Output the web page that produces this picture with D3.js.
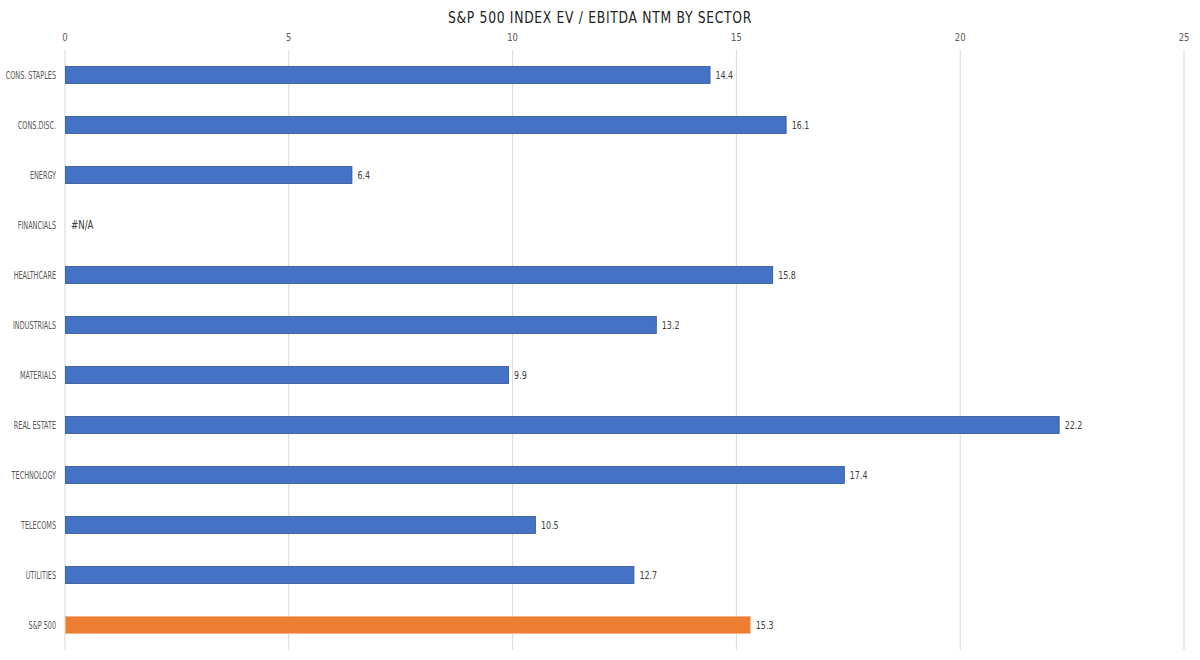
<!DOCTYPE html>
<html>
<head>
<meta charset="utf-8">
<script src="https://cdn.jsdelivr.net/npm/d3@7"></script>
<style>
  body { margin: 0; background: #fff; }
  text { font-family: "DejaVu Sans Condensed", "Liberation Sans Narrow", sans-serif; }
</style>
</head>
<body>
<div id="chart"></div>
<script>
var sectors = ['CONS. STAPLES', 'CONS.DISC.', 'ENERGY', 'FINANCIALS', 'HEALTHCARE', 'INDUSTRIALS',
               'MATERIALS', 'REAL ESTATE', 'TECHNOLOGY', 'TELECOMS', 'UTILITIES', 'S&P 500'];
var evEbitda = [14.4, 16.1, 6.4, null, 15.8, 13.2, 9.9, 22.2, 17.4, 10.5, 12.7, 15.3];
var xTicks = [0, 5, 10, 15, 20, 25];

var width = 1200,
    height = 660,
    margin = {top: 50, right: 16, bottom: 10, left: 65};

var svg = d3.select('#chart').append('svg')
  .attr('width', width)
  .attr('height', height);

var x = d3.scaleLinear()
  .domain([0, 25])
  .range([margin.left, width - margin.right]);

var y = d3.scaleBand()
  .domain(sectors)
  .range([margin.top, height - margin.bottom])
  .paddingInner(0.66)
  .paddingOuter(0.33);

// the reference uses a narrow font, so squeeze text horizontally
function at(px, py, sx) {
  return 'translate(' + px + ',' + py + ') scale(' + sx + ',1)';
}

svg.append('text')
  .attr('transform', at(width / 2, 23, 0.86))
  .attr('text-anchor', 'middle')
  .attr('font-size', 16)
  .attr('letter-spacing', 0.8)
  .attr('fill', '#222')
  .text('S&P 500 INDEX EV / EBITDA NTM BY SECTOR');

// gridlines
svg.append('g').selectAll('line')
  .data(xTicks)
  .enter().append('line')
  .attr('x1', function(d) { return x(d); })
  .attr('x2', function(d) { return x(d); })
  .attr('y1', margin.top)
  .attr('y2', height - margin.bottom)
  .attr('stroke', '#d9d9d9')
  .attr('stroke-width', 1);

// tick labels on top
svg.append('g').selectAll('text')
  .data(xTicks)
  .enter().append('text')
  .attr('transform', function(d) { return at(x(d), 41, 0.85); })
  .attr('text-anchor', 'middle')
  .attr('font-size', 11)
  .attr('fill', '#595959')
  .text(function(d) { return d; });

// category labels
svg.append('g').selectAll('text')
  .data(sectors)
  .enter().append('text')
  .attr('transform', function(d) { return at(56, y(d) + y.bandwidth() / 2, 0.72); })
  .attr('dy', '0.35em')
  .attr('text-anchor', 'end')
  .attr('font-size', 10)
  .attr('fill', '#595959')
  .text(function(d) { return d; });

var rows = sectors.map(function(s, i) { return {name: s, value: evEbitda[i]}; });

svg.append('g').selectAll('rect')
  .data(rows.filter(function(d) { return d.value !== null; }))
  .enter().append('rect')
  .attr('x', x(0) + 0.5)
  .attr('y', function(d) { return y(d.name); })
  .attr('width', function(d) { return x(d.value) - x(0); })
  .attr('height', y.bandwidth())
  .attr('fill', function(d) { return d.name === 'S&P 500' ? '#ED7D31' : '#4472C4'; })
  .attr('stroke', function(d) { return d.name === 'S&P 500' ? '#F4B183' : '#2F5597'; })
  .attr('stroke-width', 0.8);

svg.append('g').selectAll('text')
  .data(rows)
  .enter().append('text')
  .attr('transform', function(d) {
    return at(x(d.value === null ? 0 : d.value) + 6, y(d.name) + y.bandwidth() / 2, 0.8);
  })
  .attr('dy', '0.35em')
  .attr('font-size', function(d) { return d.value === null ? 12 : 11; })
  .attr('fill', '#404040')
  .text(function(d) { return d.value === null ? '#N/A' : d.value.toFixed(1); });
</script>
</body>
</html>
